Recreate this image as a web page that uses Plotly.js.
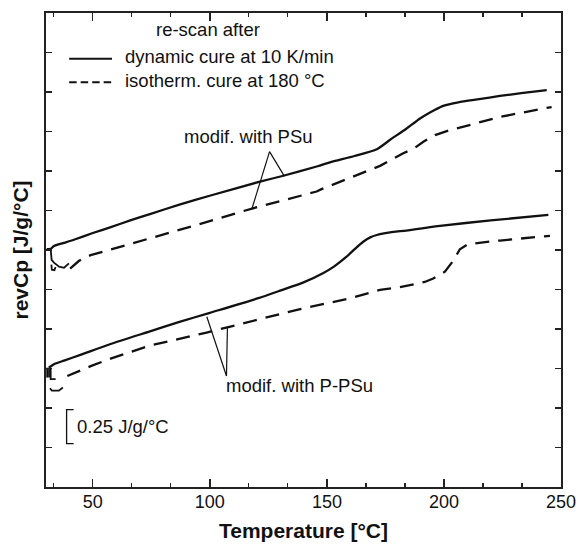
<!DOCTYPE html>
<html>
<head>
<meta charset="utf-8">
<script src="https://cdn.plot.ly/plotly-3.0.1.min.js"></script>
<style>html,body{margin:0;padding:0;background:#fff;}#chart{width:578px;height:545px;}</style>
</head>
<body>
<div id="chart"></div>
<script>
// Data (y in tick units of the original, arbitrary offset scale)
const T_dyn_psu  = [30.3, 32.0, 33.4, 37.7, 41.9, 50.0, 57.7, 66.0, 74.4, 87.0, 100.3, 121.4, 131.4, 146.0, 151.3, 161.8, 171.3, 177.0, 183.9, 189.8, 196.2, 199.7, 206.1, 215.0, 223.9, 233.0, 243.9];
const cp_dyn_psu = [6.02, 6.03, 6.10, 6.18, 6.26, 6.43, 6.58, 6.75, 6.91, 7.15, 7.38, 7.73, 7.88, 8.12, 8.22, 8.38, 8.55, 8.79, 9.07, 9.33, 9.55, 9.65, 9.74, 9.82, 9.90, 9.97, 10.05];

const T_iso_psu  = [40.3, 44.0, 46.6, 49.1, 54.5, 73.4, 92.4, 118.0, 132.8, 145.6, 147.7, 162.7, 172.7, 182.6, 186.9, 191.2, 196.2, 201.2, 223.9, 246.0];
const cp_iso_psu = [5.53, 5.72, 5.81, 5.87, 5.96, 6.27, 6.60, 7.05, 7.28, 7.48, 7.54, 7.90, 8.13, 8.45, 8.56, 8.74, 8.91, 9.01, 9.37, 9.62];

const T_dyn_ppsu  = [31.2, 33.4, 37.7, 45.0, 57.6, 74.4, 87.0, 100.0, 120.7, 130.0, 140.0, 148.5, 153.0, 158.4, 162.0, 165.5, 168.5, 171.3, 178.4, 183.9, 198.3, 220.0, 244.6];
const cp_dyn_ppsu = [3.02, 3.11, 3.20, 3.35, 3.62, 3.94, 4.18, 4.41, 4.78, 4.97, 5.18, 5.42, 5.58, 5.83, 6.03, 6.21, 6.32, 6.38, 6.46, 6.49, 6.61, 6.75, 6.89];

const T_iso_ppsu  = [39.1, 44.1, 49.1, 57.6, 74.4, 98.6, 108.0, 136.8, 160.0, 172.7, 181.2, 191.8, 195.4, 200.4, 204.0, 206.8, 210.4, 223.9, 245.3];
const cp_iso_ppsu = [2.81, 2.94, 3.06, 3.25, 3.58, 3.91, 4.05, 4.48, 4.78, 4.99, 5.06, 5.19, 5.28, 5.45, 5.73, 6.02, 6.15, 6.24, 6.36];

// start-up artefacts of the scans (separate strokes, null = gap)
const T_art  = [32.0, 32.1, 32.4, 33.4, 35.6, 37.7, 39.8, null, 32.3, 32.5, 33.6, 34.1, null,
                30.5, 30.5, null, 31.3, 31.3, null, 32.0, 32.0, 34.1, null, 31.7, 32.5, 35.5, 37.2];
const cp_art = [6.02, 5.90, 5.75, 5.68, 5.58, 5.55, 5.66, null, 5.63, 5.50, 5.49, 5.57, null,
                3.02, 2.77, null, 3.02, 2.77, null, 2.99, 2.73, 2.73, null, 2.50, 2.44, 2.44, 2.52];

// pointer lines
const ptrPSu  = {apex: [125.5, 8.49], a: [131.8, 7.87], b: [118.0, 7.05]};
const ptrPPSu = {apex: [107.1, 2.81], a: [98.7, 4.31], b: [107.5, 4.05]};
const scaleBar = {x: 38.8, x2: 41.8, y0: 1.10, y1: 1.96, label: '0.25 J/g/°C'};

const xTicks = [50, 100, 150, 200, 250];

const font = 'Liberation Sans, Arial, sans-serif';
const lw = 2.3;
const traces = [
  {x: T_dyn_psu, y: cp_dyn_psu, mode: 'lines', line: {color: '#111', width: lw, shape: 'spline', smoothing: 0.6}, hoverinfo: 'skip'},
  {x: T_iso_psu, y: cp_iso_psu, mode: 'lines', line: {color: '#111', width: lw, dash: '14px,9px'}, hoverinfo: 'skip'},
  {x: T_dyn_ppsu, y: cp_dyn_ppsu, mode: 'lines', line: {color: '#111', width: lw, shape: 'spline', smoothing: 0.6}, hoverinfo: 'skip'},
  {x: T_iso_ppsu, y: cp_iso_ppsu, mode: 'lines', line: {color: '#111', width: lw, dash: '14px,9px'}, hoverinfo: 'skip'},
  {x: T_art, y: cp_art, mode: 'lines', connectgaps: false, line: {color: '#111', width: 1.8}, hoverinfo: 'skip'}
];

function seg(p, q, w) {
  return {type: 'line', xref: 'x', yref: 'y', x0: p[0], y0: p[1], x1: q[0], y1: q[1], line: {color: '#111', width: w || 1.2}};
}
const shapes = [
  seg(ptrPSu.apex, ptrPSu.a), seg(ptrPSu.apex, ptrPSu.b),
  seg(ptrPPSu.apex, ptrPPSu.a), seg(ptrPPSu.apex, ptrPPSu.b),
  {type: 'path', xref: 'x', yref: 'y',
   path: `M ${scaleBar.x2} ${scaleBar.y1} L ${scaleBar.x} ${scaleBar.y1} L ${scaleBar.x} ${scaleBar.y0} L ${scaleBar.x2} ${scaleBar.y0}`,
   line: {color: '#111', width: 1.3}},
  // legend samples
  {type: 'line', xref: 'x', yref: 'y', x0: 39.9, x1: 58.2, y0: 10.84, y1: 10.84, line: {color: '#111', width: 2}},
  {type: 'line', xref: 'x', yref: 'y', x0: 39.9, x1: 58.2, y0: 10.25, y1: 10.25, line: {color: '#111', width: 2, dash: '7.5px,4px'}}
];

const af = {family: font, size: 18.5, color: '#111'};
const annotations = [
  {x: 76.1, y: 11.58, xref: 'x', yref: 'y', text: 're-scan after', showarrow: false, xanchor: 'left', yanchor: 'middle', font: af},
  {x: 63.0, y: 10.90, xref: 'x', yref: 'y', text: 'dynamic cure at 10 K/min', showarrow: false, xanchor: 'left', yanchor: 'middle', font: af},
  {x: 62.8, y: 10.30, xref: 'x', yref: 'y', text: 'isotherm. cure at 180 °C', showarrow: false, xanchor: 'left', yanchor: 'middle', font: af},
  {x: 116.7, y: 8.88, xref: 'x', yref: 'y', text: 'modif. with PSu', showarrow: false, xanchor: 'center', yanchor: 'middle', font: af},
  {x: 138.1, y: 2.56, xref: 'x', yref: 'y', text: 'modif. with P-PSu', showarrow: false, xanchor: 'center', yanchor: 'middle', font: af},
  {x: 42.2, y: 1.53, xref: 'x', yref: 'y', text: scaleBar.label, showarrow: false, xanchor: 'left', yanchor: 'middle', font: af}
];

const layout = {
  width: 578, height: 545,
  margin: {l: 46, r: 17, t: 13, b: 58, pad: 0},
  paper_bgcolor: '#fff', plot_bgcolor: '#fff',
  showlegend: false,
  font: {family: font, color: '#111'},
  xaxis: {
    range: [30, 250], tickvals: xTicks, ticktext: xTicks.map(String),
    ticks: 'inside', ticklen: 8, tickwidth: 1.3, tickcolor: '#222',
    minor: {dtick: 50 / 3, tick0: 0, ticks: 'inside', ticklen: 4, tickwidth: 1.2, tickcolor: '#222'},
    showline: true, linecolor: '#222', linewidth: 1.6, mirror: 'ticks',
    showgrid: false, zeroline: false,
    tickfont: {family: font, size: 18, color: '#111'},
    ticklabelstandoff: -2,
    title: {text: 'Temperature [°C]', font: {family: font, size: 21, weight: 'bold', color: '#111'}, standoff: 12},
    fixedrange: true
  },
  yaxis: {
    range: [0, 12], dtick: 1, tick0: 0, showticklabels: false,
    ticks: 'inside', ticklen: 6, tickwidth: 1.3, tickcolor: '#222',
    showline: true, linecolor: '#222', linewidth: 1.6, mirror: 'ticks',
    showgrid: false, zeroline: false,
    title: {text: 'revCp [J/g/°C]', font: {family: font, size: 21, weight: 'bold', color: '#111'}, standoff: 10},
    fixedrange: true
  },
  shapes: shapes,
  annotations: annotations
};

Plotly.newPlot('chart', traces, layout, {displayModeBar: false, staticPlot: true});
</script>
</body>
</html>
